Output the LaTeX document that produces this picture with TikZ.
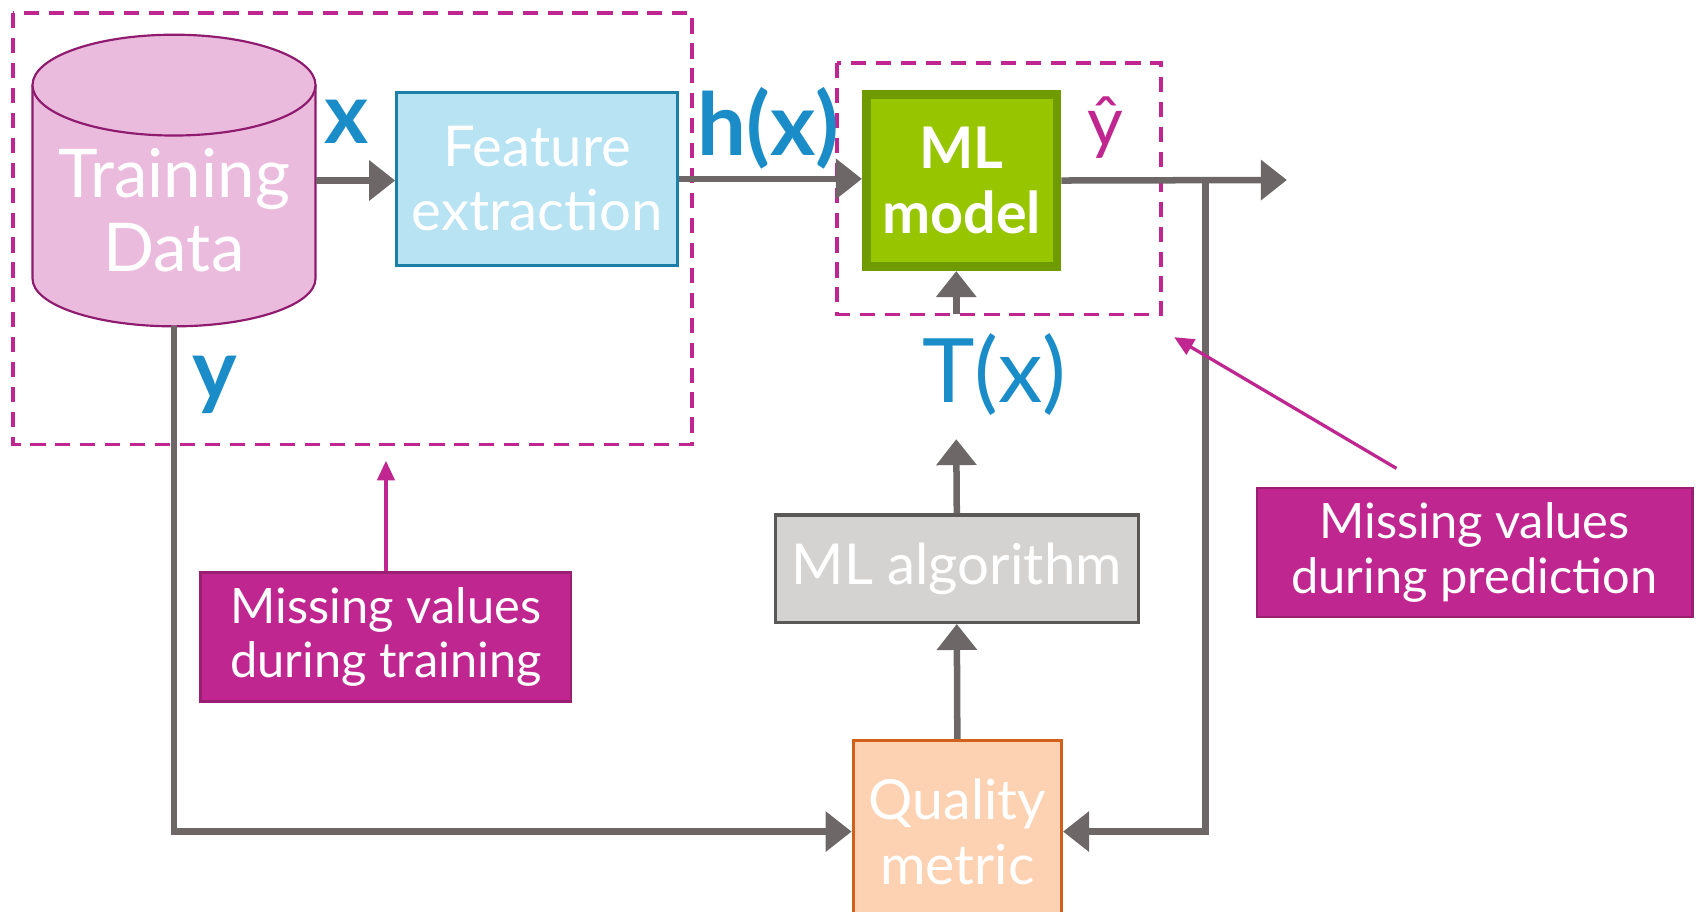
\documentclass[tikz,border=0pt]{standalone}
\usepackage{fontspec}
\setmainfont{Lato}
\usetikzlibrary{arrows.meta,shadows}
\definecolor{lgray}{HTML}{6E6767}
\definecolor{mag}{HTML}{C0268F}
\definecolor{tblue}{HTML}{1A8CC8}
\definecolor{cylfill}{HTML}{EBBBDD}
\definecolor{cylline}{HTML}{8E1B6E}
\definecolor{fefill}{HTML}{B8E3F2}
\definecolor{feline}{HTML}{1B7FA6}
\definecolor{mlfill}{HTML}{97C500}
\definecolor{mlline}{HTML}{6F9A00}
\definecolor{algfill}{HTML}{D4D3D2}
\definecolor{algline}{HTML}{5A5757}
\definecolor{qmfill}{HTML}{FDD2B2}
\definecolor{qmline}{HTML}{D0601A}
\begin{document}
\begin{tikzpicture}[x=1pt,y=-1pt,
  conn/.style={draw=lgray, line width=6pt, -{Triangle[length=24pt,width=36pt]}},
  marr/.style={draw=mag, line width=3pt, -{Triangle[length=18pt,width=16pt]}},
  dbox/.style={draw=mag, line width=3.5pt, dash pattern=on 14pt off 9pt},
  boxtext/.style={text=white, align=center, inner sep=0pt},
  mvbox/.style={fill=mag, draw=mag!80!black, line width=2pt, text=white, align=center,
    font=\fontsize{45}{50}\selectfont},
  lbl/.style={text=tblue, inner sep=0pt}
]
\useasboundingbox (0,0) rectangle (1568,841);
\clip (0,0) rectangle (1568,841);

% dashed regions
\draw[dbox] (12,12) rectangle (638,410);
\draw[dbox] (772,58) rectangle (1071,290);

% cylinder
\fill[cylfill] (30,78) -- (30,257) arc[start angle=180,end angle=360,x radius=130.5pt,y radius=44pt] -- (291,78) -- cycle;
\draw[cylline, line width=2pt] (30,78) -- (30,257) arc[start angle=180,end angle=360,x radius=130.5pt,y radius=44pt] -- (291,78);
\draw[cylline, line width=2pt, fill=cylfill] (160.5,78.5) ellipse[x radius=130.5pt, y radius=46.5pt];
\node[minimum width=261pt, minimum height=269pt, inner sep=0pt, outer sep=0pt] (cyl) at (160.5,166.5) {};
\node[boxtext, font=\fontsize{62}{68}\selectfont] (cyltext) at (160.5,194) {Training\\Data};

% boxes
\node[boxtext, fill=fefill, draw=feline, line width=3pt, minimum width=259pt, minimum height=160pt,
  font=\fontsize{52}{59}\selectfont] (fe) at (495.5,165) {Feature\\extraction};
\node[boxtext, fill=mlfill, draw=mlline, line width=8pt, minimum width=176pt, minimum height=159pt,
  font=\bfseries\fontsize{53}{60}\selectfont,
  drop shadow={opacity=0.35, shadow xshift=3pt, shadow yshift=-3pt}] (ml) at (887,166.5) {ML\\model};
\node[boxtext, fill=algfill, draw=algline, line width=3pt, minimum width=335pt, minimum height=99pt,
  font=\fontsize{52}{59}\selectfont] (alg) at (882.5,524.5) {ML algorithm};
\node[boxtext, fill=qmfill, draw=qmline, line width=3pt, minimum width=192pt, minimum height=168pt,
  font=\fontsize{51}{60}\selectfont] (qm) at (883,767) {Quality\\metric};

% missing value boxes
\node[mvbox, minimum width=342pt, minimum height=119pt] (mt) at (356,587.5) {Missing values\\during training};
\node[mvbox, minimum width=402pt, minimum height=119pt] (mp) at (1360,509.5) {Missing values\\during prediction};

% coordinates
\coordinate (out) at (1187,166);
\coordinate (j) at (1112,166);
\coordinate (tstart) at (882,290);
\coordinate (tend) at (882,405);
\coordinate (mtend) at (356,425);
\coordinate (mpstart) at (1288,432);
\coordinate (mpend) at (1083,311);

% connectors
\draw[conn] (cyl.east) -- (cyl.east -| fe.west);
\draw[conn] (fe.east) -- (fe.east -| ml.west);
\draw[conn] (ml.east) -- (out);
\draw[conn] (j) |- (qm.east);
\draw[conn] (cyl.south) |- (qm.west);
\draw[conn] (tstart) -- (tstart |- ml.south);
\draw[conn] (alg.north) -- (tend);
\draw[conn] (qm.north) -- (alg.south);
\draw[marr] (mt.north) -- (mtend);
\draw[marr] (mpstart) -- (mpend);

% labels
\node[lbl, font=\bfseries\fontsize{78}{78}\selectfont] (lx) at (320,112) {x};
\node[lbl, font=\bfseries\fontsize{80}{80}\selectfont] (lh) at (709,118) {h(x)};
\node[lbl, text=mag, font=\fontsize{64}{64}\selectfont] (lyhat) at (1020,118) {ŷ};
\node[lbl, font=\fontsize{82}{82}\selectfont] (lt) at (917,345) {T(x)};
\node[lbl, font=\bfseries\fontsize{78}{78}\selectfont] (ly) at (198,355) {y};
\end{tikzpicture}
\end{document}
